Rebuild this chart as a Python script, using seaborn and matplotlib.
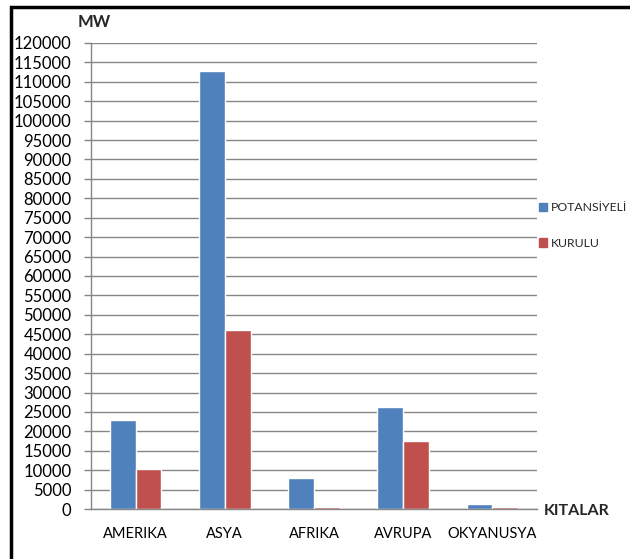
import matplotlib
matplotlib.use("Agg")
import matplotlib.pyplot as plt
import matplotlib.patches as mpatches
import seaborn as sns
import pandas as pd
import numpy as np

# Installed wind power capacity by continent (MW)
kitalar = ["AMERIKA", "ASYA", "AFRIKA", "AVRUPA", "OKYANUSYA"]
potansiyel = [23000, 112700, 7900, 26200, 1200]
kurulu = [10300, 46000, 600, 17600, 400]
seriler = ["POTANSİYELİ", "KURULU"]
renkler = ["#4F81BD", "#C0504D"]
y_ticks = list(range(0, 120001, 5000))

df = pd.DataFrame({
    "kita": kitalar * 2,
    "seri": [seriler[0]] * len(kitalar) + [seriler[1]] * len(kitalar),
    "mw": potansiyel + kurulu,
})

sns.set_theme(style="white")
plt.rcParams["font.family"] = ["Lato", "DejaVu Sans"]

W, H = 630, 559
fig = plt.figure(figsize=(W / 100, H / 100), dpi=100)
ax = fig.add_axes([91 / W, 1 - 509 / H, (537 - 91) / W, (509 - 43) / H])

sns.barplot(data=df, x="kita", y="mw", hue="seri", order=kitalar,
            hue_order=seriler, palette=renkler, width=0.58, gap=0,
            saturation=1, errorbar=None, legend=False, ax=ax)

ax.set_ylim(0, 120000)
ax.set_xlim(-0.5, len(kitalar) - 0.5)
ax.set_yticks(y_ticks)
ax.set_yticklabels([str(v) for v in y_ticks], fontsize=12, color="#000000")
ax.yaxis.grid(True, color="#868686", linewidth=1)
ax.set_axisbelow(True)
ax.set_xlabel("")
ax.set_ylabel("")

# category labels without ticks; boundary ticks as minor ticks
ax.tick_params(axis="x", which="major", length=0, pad=13, labelsize=10.5,
               labelcolor="#000000")
ax.set_xticks(np.arange(-0.5, len(kitalar)), minor=True)
ax.tick_params(axis="x", which="minor", length=5, width=1, color="#868686",
               direction="out")
ax.tick_params(axis="y", length=5, width=1, color="#868686", direction="out",
               pad=9, left=True)

for s in ["top", "right"]:
    ax.spines[s].set_visible(False)
for s in ["left", "bottom"]:
    ax.spines[s].set_color("#868686")
    ax.spines[s].set_linewidth(1)

fig.text(94 / W, 1 - 22 / H, "MW", fontsize=12, fontweight="bold",
         ha="center", va="center")
fig.text(544 / W, 1 - 511 / H, "KITALAR", fontsize=11.5, fontweight="bold",
         ha="left", va="center")

handles = [mpatches.Patch(color=c, label=l) for c, l in zip(renkler, seriler)]
fig.legend(handles=handles, loc="center left",
           bbox_to_anchor=(539 / W, 1 - 225.5 / H),
           bbox_transform=fig.transFigure, frameon=False, fontsize=8.8,
           handlelength=0.65, handleheight=0.65, handletextpad=0.3,
           labelspacing=2.0, borderpad=0, borderaxespad=0)

# chart frame
fig.add_artist(mpatches.Rectangle((11 / W, -0.1), 1.2, 1 - 7 / H + 0.1,
                                  transform=fig.transFigure, fill=False,
                                  edgecolor="black", linewidth=2.5))

fig.savefig("out.png", dpi=100)
